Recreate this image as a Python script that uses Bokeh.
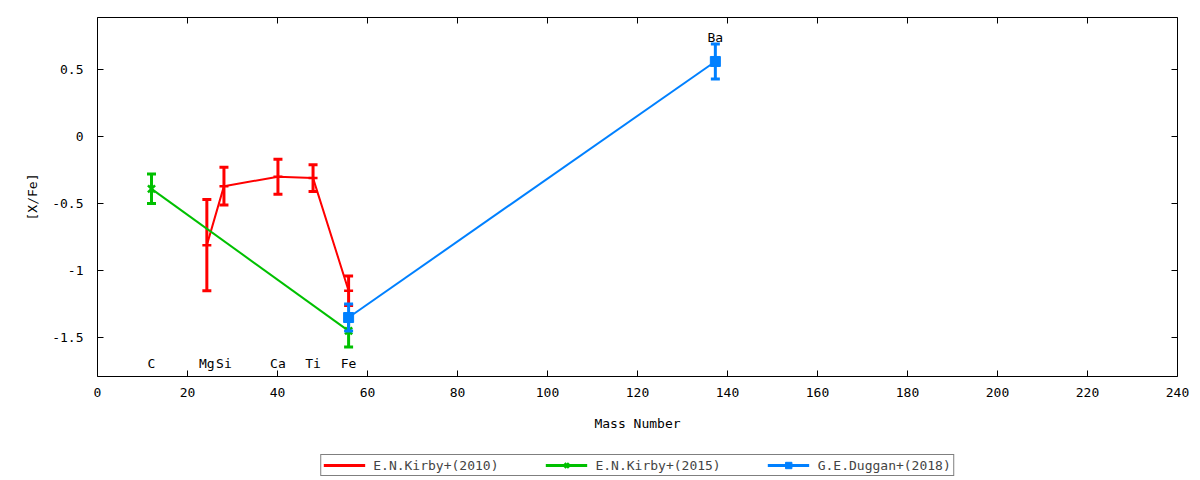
from bokeh.plotting import figure
from bokeh.layouts import column
from bokeh.models import (Range1d, LinearAxis, FixedTicker, CustomJSTickFormatter,
                          Legend, LegendItem, ColumnDataSource)
from bokeh.core.properties import value
from bokeh.embed import file_html
from bokeh.resources import INLINE

# ---- data ----
kirby10_el = ["Mg", "Si", "Ca", "Ti", "Fe"]
kirby10_x = [24.3, 28.1, 40.1, 47.9, 55.8]
kirby10_y = [-0.81, -0.37, -0.30, -0.31, -1.15]
kirby10_err = [0.34, 0.14, 0.13, 0.10, 0.11]

kirby15_el = ["C", "Fe"]
kirby15_x = [12.0, 55.8]
kirby15_y = [-0.39, -1.45]
kirby15_err = [0.11, 0.12]

duggan18_el = ["Fe", "Ba"]
duggan18_x = [55.8, 137.3]
duggan18_y = [-1.35, 0.56]
duggan18_err = [0.10, 0.13]

label_el = ["C", "Mg", "Si", "Ca", "Ti", "Fe"]
label_x = [12.0, 24.3, 28.1, 40.1, 47.9, 55.8]
label_y = [-1.69, -1.69, -1.69, -1.69, -1.69, -1.69]
top_label_el = ["Ba"]
top_label_x = [137.3]
top_label_y = [0.74]

series_names = ["E.N.Kirby+(2010)", "E.N.Kirby+(2015)", "G.E.Duggan+(2018)"]
series_colors = ["#ff0000", "#00c000", "#0080ff"]

x_ticks = list(range(0, 241, 20))
y_ticks = [-1.5, -1.0, -0.5, 0.0, 0.5]

FONT = "DejaVu Sans Mono"
FS = "13px"
NAN = float("nan")

p = figure(frame_width=1080, frame_height=359, output_backend="svg",
           toolbar_location=None,
           x_range=Range1d(0, 240), y_range=Range1d(-1.79, 0.888),
           min_border_left=97, min_border_right=15, min_border_top=17,
           min_border_bottom=60)
p.xgrid.visible = False
p.ygrid.visible = False
p.outline_line_color = "black"
p.outline_line_width = 1
p.background_fill_color = "white"
p.border_fill_color = "white"

fmt = CustomJSTickFormatter(code="return String(Math.round(tick*10)/10);")
blank = CustomJSTickFormatter(code="return '';")

def style_axis(ax):
    ax.axis_line_color = None
    ax.major_tick_in = 6
    ax.major_tick_out = 0
    ax.minor_tick_line_color = None
    ax.major_tick_line_color = "black"
    ax.major_label_text_font = FONT
    ax.major_label_text_font_size = FS
    ax.major_label_text_color = "black"
    ax.axis_label_text_font = FONT
    ax.axis_label_text_font_size = FS
    ax.axis_label_text_font_style = "normal"
    ax.axis_label_text_color = "black"

p.xaxis.ticker = FixedTicker(ticks=x_ticks)
p.yaxis.ticker = FixedTicker(ticks=y_ticks)
p.xaxis.formatter = fmt
p.yaxis.formatter = fmt
style_axis(p.xaxis[0])
style_axis(p.yaxis[0])
p.xaxis.axis_label = "Mass Number"
p.yaxis.axis_label = "[X/Fe]"
p.xaxis.major_label_standoff = 11
p.yaxis.major_label_standoff = 14
p.xaxis.axis_label_standoff = 16
p.yaxis.axis_label_standoff = 9

top_ax = LinearAxis(ticker=FixedTicker(ticks=x_ticks), formatter=blank)
style_axis(top_ax)
right_ax = LinearAxis(ticker=FixedTicker(ticks=y_ticks), formatter=blank)
style_axis(right_ax)
p.add_layout(top_ax, "above")
p.add_layout(right_ax, "right")

def series(xs, ys, errs, color, marker, msize):
    src = ColumnDataSource(dict(x=xs, y=ys,
                                lo=[y - e for y, e in zip(ys, errs)],
                                hi=[y + e for y, e in zip(ys, errs)]))
    p.line("x", "y", source=src, line_color=color, line_width=2)
    p.segment(x0="x", y0="lo", x1="x", y1="hi", source=src,
              line_color=color, line_width=3)
    p.scatter("x", "lo", source=src, marker="dash", size=9,
              line_color=color, line_width=3)
    p.scatter("x", "hi", source=src, marker="dash", size=9,
              line_color=color, line_width=3)
    if marker == "square":
        p.scatter("x", "y", source=src, marker="square", size=msize,
                  fill_color=color, line_color=color)
    else:
        p.scatter("x", "y", source=src, marker=marker, size=msize,
                  line_color=color, line_width=2.5)

series(kirby10_x, kirby10_y, kirby10_err, series_colors[0], "dash", 9)
series(kirby15_x, kirby15_y, kirby15_err, series_colors[1], "x", 10)
series(duggan18_x, duggan18_y, duggan18_err, series_colors[2], "square", 10)

p.text(x=label_x, y=label_y, text=label_el, text_font=value(FONT),
       text_font_size=FS, text_align="center", text_baseline="middle",
       text_color="black")
p.text(x=top_label_x, y=top_label_y, text=top_label_el, text_font=value(FONT),
       text_font_size=FS, text_align="center", text_baseline="middle",
       text_color="black")

# ---- legend strip ----
q = figure(frame_width=1080, frame_height=26, output_backend="svg",
           toolbar_location=None, x_axis_location=None, y_axis_location=None,
           x_range=Range1d(0, 1), y_range=Range1d(0, 1),
           min_border_left=97, min_border_right=15, min_border_top=16,
           min_border_bottom=0)
q.xgrid.visible = False
q.ygrid.visible = False
q.outline_line_color = None
q.border_fill_color = "white"
q.background_fill_color = "white"

markers = ["dash", "x", "square"]
items = []
for name, col, mk in zip(series_names, series_colors, markers):
    ln = q.line(x=[NAN], y=[NAN], line_color=col, line_width=3)
    if mk == "square":
        sc = q.scatter(x=[NAN], y=[NAN], marker="square", size=10,
                       fill_color=col, line_color=col)
    elif mk == "x":
        sc = q.scatter(x=[NAN], y=[NAN], marker="x", size=8,
                       line_color=col, line_width=3)
    else:
        sc = q.scatter(x=[NAN], y=[NAN], marker="dash", size=9, angle=1.5708,
                       line_color=col, line_width=3)
    items.append(LegendItem(label=name, renderers=[ln, sc]))

legend = Legend(items=items, orientation="horizontal", location="center",
                label_text_font=FONT, label_text_font_size=FS,
                border_line_color="black", border_line_width=1,
                background_fill_alpha=1, glyph_width=42, glyph_height=16,
                label_height=16, padding=2, spacing=47, label_standoff=8,
                margin=0)
q.add_layout(legend, "center")

layout = column(p, q, spacing=0)
open("out.html", "w").write(file_html(layout, INLINE))
